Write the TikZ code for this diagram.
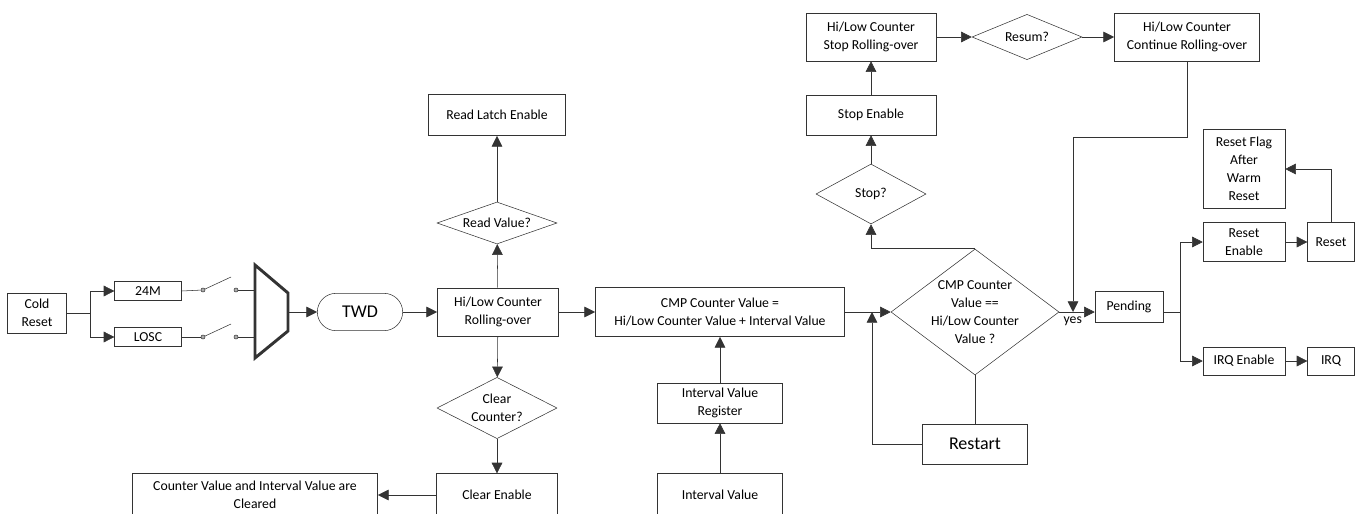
\documentclass[tikz,border=0pt]{standalone}
\usepackage{fontspec}
\setmainfont{Carlito}
\usepackage{xcolor}
\definecolor{Charcoal}{HTML}{333333}
\colorlet{cLine}{Charcoal}
\usepackage{tikz}
\usetikzlibrary{arrows.meta, shapes.geometric, positioning}
\tikzset{
	x=.75pt,
	y=-.75pt,
	line width = .9pt,
	>={Triangle[length=8pt,width=8pt]},
	font = \fontsize{10.3}{13.6}\selectfont,
	block/.style={
		draw=cLine,
		rectangle,
		align=center,
		inner sep=1pt
	},
	decision/.style={
		draw=cLine,
		diamond,
		align=center,
		inner sep=0pt
	},
	terminal/.style={
		draw=cLine,
		rectangle,
		rounded corners=14pt,
		font=\fontsize{13.5}{16}\selectfont
	},
	bigtext/.style={
		font=\fontsize{13.5}{16}\selectfont
	},
	dot/.style={
		draw=cLine,
		fill=cLine!40,
		circle,
		inner sep=0pt,
		minimum size=3pt
	},
	line/.style={
		draw=cLine
	},
	edge/.style={
		->,
		draw=cLine
	}
}

\begin{document}
\begin{tikzpicture}
\useasboundingbox (0,0) rectangle (1368,514);
\clip (0,0) rectangle (1368,514);
% ---
% clock sources and selector
% ---
\node[block, minimum width=44pt, minimum height=30pt] (cold) at (37,313) {Cold\\Reset};
\node[block, minimum width=50pt, minimum height=14pt] (src-24m) at (148,291) {24M};
\node[block, minimum width=50pt, minimum height=14pt] (src-losc) at (148,337) {LOSC};
\coordinate (split-src) at (90,313);

\node[dot] (sw1-a) at (203,290) {};
\node[dot] (sw1-b) at (236,290) {};
\coordinate (sw1-arm) at (231,277);
\node[dot] (sw2-a) at (203,337) {};
\node[dot] (sw2-b) at (236,337) {};
\coordinate (sw2-arm) at (231,324);

\draw[line, line width=2.2pt, line join=miter] (255,265) -- (288,293) -- (288,331) -- (255,358) -- cycle;
\coordinate (mux-in1) at (255,290);
\coordinate (mux-in2) at (255,337);
\coordinate (mux-out) at (289,312);

\draw[line] (cold.east) -- (split-src);
\draw[edge] (split-src) |- (src-24m.west);
\draw[edge] (split-src) |- (src-losc.west);
\draw[line] (src-24m.east) -- (sw1-a);
\draw[line] (sw1-a) -- (sw1-arm);
\draw[line] (sw1-b) -- (mux-in1);
\draw[line] (src-losc.east) -- (sw2-a);
\draw[line] (sw2-a) -- (sw2-arm);
\draw[line] (sw2-b) -- (mux-in2);

% ---
% counter
% ---
\node[terminal, minimum width=64pt, minimum height=28pt] (twd) at (360,312) {TWD};
\node[block, minimum width=91pt, minimum height=36pt] (roll) at (498,312) {Hi/Low Counter\\Rolling-over};
\node[decision, minimum width=90pt, minimum height=31.5pt, aspect=2.8] (readq) at (497,223) {Read Value?};
\node[block, minimum width=103pt, minimum height=31pt] (latch) at (497,115) {Read Latch Enable};
\node[decision, minimum width=90pt, minimum height=46pt, aspect=2] (clearq) at (497,408) {Clear\\Counter?};
\node[block, minimum width=91pt, minimum height=32pt] (clearen) at (497,495) {Clear Enable};
\node[block, minimum width=184pt, minimum height=32pt] (cleared) at (255,495) {Counter Value and Interval Value are\\Cleared};

\draw[edge] (mux-out) -- (twd);
\draw[edge] (twd) -- (roll);
\draw[edge] (roll) -- (readq);
\draw[edge] (readq) -- (latch);
\draw[edge] (roll) -- (clearq);
\draw[edge] (clearq) -- (clearen);
\draw[edge] (clearen) -- (cleared);

% ---
% compare
% ---
\node[block, minimum width=187pt, minimum height=37pt] (cmpset) at (720,312) {CMP Counter Value =\\Hi/Low Counter Value + Interval Value};
\node[block, minimum width=94pt, minimum height=30pt] (ivreg) at (720,403) {Interval Value\\Register};
\node[block, minimum width=94pt, minimum height=32pt] (ivval) at (720,495) {Interval Value};
\node[decision, minimum width=126pt, minimum height=94.5pt,
	label={[align=center]center:{CMP Counter\\Value ==\\Hi/Low Counter\\Value ?}}] (cmpq) at (975,312) {};
\node[block, bigtext, minimum width=79pt, minimum height=30pt] (restart) at (975,444) {Restart};
\coordinate (loop) at (872,312);

\draw[edge] (roll) -- (cmpset);
\draw[edge] (ivval) -- (ivreg);
\draw[edge] (ivreg) -- (cmpset);
\draw[edge] (cmpset) -- (cmpq);
\draw[line] (cmpq.south) -- (restart.north);
\draw[edge] (restart.west) -| (loop);

% ---
% stop / resume
% ---
\node[decision, minimum width=82.5pt, minimum height=45pt, aspect=1.8] (stopq) at (871,194) {Stop?};
\node[block, minimum width=97.5pt, minimum height=30pt] (stopen) at (871,115) {Stop Enable};
\node[block, minimum width=97.5pt, minimum height=36pt] (stoproll) at (871,37) {Hi/Low Counter\\Stop Rolling-over};
\node[decision, minimum width=82.5pt, minimum height=34pt, aspect=2.4] (resumq) at (1027,37) {Resum?};
\node[block, minimum width=109pt, minimum height=36pt] (controll) at (1187,37) {Hi/Low Counter\\Continue Rolling-over};
\coordinate (cont-turn) at (1073,137);
\coordinate (cont-join) at (1073,312);

\draw[edge] (cmpq.north) -| (stopq.south);
\draw[edge] (stopq) -- (stopen);
\draw[edge] (stopen) -- (stoproll);
\draw[edge] (stoproll) -- (resumq);
\draw[edge] (resumq) -- (controll);
\draw[edge] (controll.south) |- (cont-turn) -- (cont-join);

% ---
% interrupt / reset
% ---
\node[block, minimum width=51pt, minimum height=23pt] (pend) at (1129,307) {Pending};
\coordinate (split-pend) at (1180,312);
\node[block, minimum width=61.5pt, minimum height=29pt] (resen) at (1244,242) {Reset\\Enable};
\node[block, minimum width=35pt, minimum height=29pt] (reset) at (1331,242) {Reset};
\node[block, minimum width=61.5pt, minimum height=59pt] (flag) at (1244,169) {Reset Flag\\After\\Warm\\Reset};
\node[block, minimum width=61.5pt, minimum height=21pt] (irqen) at (1244,361) {IRQ Enable};
\node[block, minimum width=35pt, minimum height=21pt] (irq) at (1331,361) {IRQ};

\draw[edge] (cmpq.east) -- node[pos=.38, below=0pt] {yes} (cmpq.east -| pend.west);
\draw[line] (pend.east |- split-pend) -- (split-pend);
\draw[edge] (split-pend) |- (resen.west);
\draw[edge] (split-pend) |- (irqen.west);
\draw[edge] (resen) -- (reset);
\draw[edge] (reset.north) |- (flag.east);
\draw[edge] (irqen) -- (irq);
\end{tikzpicture}
\end{document}
